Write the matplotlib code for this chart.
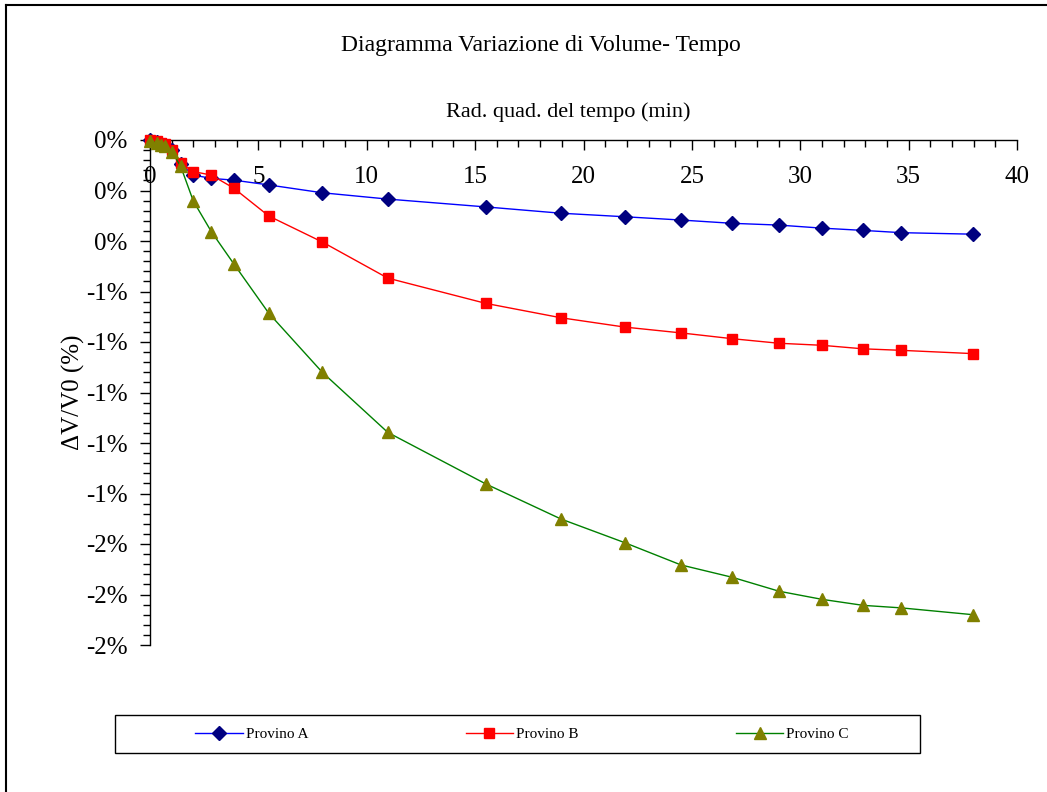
import matplotlib.pyplot as plt
from matplotlib.ticker import MultipleLocator, FuncFormatter
from matplotlib.lines import Line2D
from matplotlib.patches import Rectangle

# Radice quadrata del tempo (min^0.5)
rad_tempo = [0, 0.32, 0.5, 0.71, 1.0, 1.41, 2.0, 2.83, 3.87, 5.48, 7.95, 10.97,
             15.49, 18.96, 21.91, 24.5, 26.87, 29.02, 30.99, 32.9, 34.66, 37.97]

# Variazione di volume dV/V0 in %
provino_a = [0.0, -0.008, -0.014, -0.02, -0.04, -0.095, -0.139, -0.152, -0.159, -0.178,
             -0.209, -0.234, -0.265, -0.290, -0.304, -0.317, -0.330, -0.337, -0.349,
             -0.358, -0.367, -0.373]
provino_b = [0.0, -0.004, -0.01, -0.016, -0.04, -0.093, -0.125, -0.139, -0.191, -0.301,
             -0.404, -0.547, -0.647, -0.704, -0.741, -0.764, -0.787, -0.805, -0.813,
             -0.827, -0.833, -0.846]
provino_c = [-0.004, -0.012, -0.018, -0.024, -0.046, -0.103, -0.242, -0.363, -0.491,
             -0.686, -0.920, -1.158, -1.362, -1.501, -1.595, -1.683, -1.732, -1.787,
             -1.819, -1.843, -1.853, -1.880]

plt.rcParams['font.family'] = ['Liberation Serif', 'DejaVu Serif']

W, H = 1047, 792
fig = plt.figure(figsize=(W / 100, H / 100), dpi=100)
ax = fig.add_axes([150 / W, 1 - 645 / H, 867 / W, 505 / H])

# Serie
la, = ax.plot(rad_tempo, provino_a, color='#0000FF', linewidth=1, marker='D',
              markersize=7, markerfacecolor='#000080', markeredgecolor='#000080',
              clip_on=False, zorder=3)
lb, = ax.plot(rad_tempo, provino_b, color='#FF0000', linewidth=1, marker='s',
              markersize=7.5, markerfacecolor='#FF0000', markeredgecolor='#FF0000',
              clip_on=False, zorder=3)
lc, = ax.plot(rad_tempo, provino_c, color='#008000', linewidth=1, marker='^',
              markersize=8, markerfacecolor='#808000', markeredgecolor='#808000',
              clip_on=False, zorder=3)

ax.set_xlim(0, 40)
ax.set_ylim(-2, 0)

# Assi: asse x sulla linea dello zero (in alto)
ax.spines['bottom'].set_position(('data', 0))
ax.spines['top'].set_visible(False)
ax.spines['right'].set_visible(False)
for s in ('bottom', 'left'):
    ax.spines[s].set_linewidth(1)
    ax.spines[s].set_color('black')

ax.xaxis.set_major_locator(MultipleLocator(5))
ax.xaxis.set_minor_locator(MultipleLocator(1))
ax.yaxis.set_major_locator(MultipleLocator(0.2))
ax.yaxis.set_minor_locator(MultipleLocator(0.04))


def perc(v, pos):
    return '%d%%' % int(round(v))


ax.yaxis.set_major_formatter(FuncFormatter(perc))
ax.tick_params(axis='x', which='major', direction='out', length=7, width=1,
               labelsize=18, pad=12)
ax.tick_params(axis='x', which='minor', direction='out', length=5, width=1)
ax.tick_params(axis='y', which='major', direction='out', length=7, width=1,
               labelsize=18, pad=9)
ax.tick_params(axis='y', which='minor', direction='out', length=5, width=1)

ax.set_ylabel('ΔV/V0 (%)', fontsize=18, labelpad=1)

# Titoli
fig.text(541 / W, 1 - 46 / H, 'Diagramma Variazione di Volume- Tempo', fontsize=17,
         ha='center', va='center')
fig.text(568 / W, 1 - 112 / H, 'Rad. quad. del tempo (min)', fontsize=16,
         ha='center', va='center')

# Legenda
fig.patches.append(Rectangle((115 / W, 1 - 753 / H), 805 / W, 38 / H,
                             transform=fig.transFigure, fill=False,
                             edgecolor='black', linewidth=1))
fig.legend([la, lb, lc], ['Provino A', 'Provino B', 'Provino C'], ncol=3,
           loc='center', bbox_to_anchor=(522 / W, 1 - 734 / H), frameon=False,
           fontsize=11, handlelength=3.1, handletextpad=0.2, columnspacing=10.3)

# Cornice esterna
fig.lines.append(Line2D([6 / W, 6 / W], [0, 1 - 5 / H], transform=fig.transFigure,
                        color='black', linewidth=1.5))
fig.lines.append(Line2D([6 / W, 1], [1 - 5 / H, 1 - 5 / H], transform=fig.transFigure,
                        color='black', linewidth=1.5))

plt.savefig('out.png', dpi=100)
